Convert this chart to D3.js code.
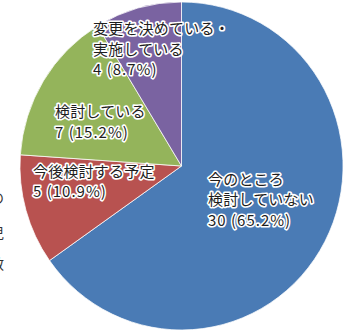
<!DOCTYPE html>
<html lang="ja">
<head>
<meta charset="utf-8">
<script src="https://cdn.jsdelivr.net/npm/d3@7/dist/d3.min.js"></script>
<style>
  html, body { margin: 0; padding: 0; background: #ffffff; }
  svg { display: block; }
  .lbl { font-family: "Noto Sans CJK JP", "Noto Sans", sans-serif; font-size: 15px; fill: #1e1e1e;
         letter-spacing: 0.2px;
         stroke: #ffffff; stroke-width: 3.2px; stroke-linejoin: round; paint-order: stroke; }
  .lbl .num { letter-spacing: 1px; }
  .side { font-family: "Noto Sans CJK JP", sans-serif; font-size: 14px; fill: #333333; }
</style>
</head>
<body>
<svg id="chart" width="352" height="331"></svg>
<script>
// Survey answers, in clockwise order from 12 o'clock
const categories = ["今のところ検討していない", "今後検討する予定", "検討している", "変更を決めている・実施している"];
const counts = [30, 5, 7, 4];
const percents = ["65.2%", "10.9%", "15.2%", "8.7%"];
const labelLines = [["今のところ", "検討していない"], ["今後検討する予定"], ["検討している"], ["変更を決めている・", "実施している"]];
const colors = ["#4a7bb5", "#b85250", "#94b45b", "#7a63a1"];
// Fragment of the neighbouring caption that runs off the left edge
const sideChars = ["の", "児", "数"];

const W = 352, H = 331;
const cx = 181.5, cy = 166, R = 164;

const svg = d3.select("#chart");

const pie = d3.pie().sort(null).value(d => d)(counts);
const arc = d3.arc().innerRadius(0).outerRadius(R);

const pieG = svg.append("g")
  .attr("transform", `translate(${cx},${cy}) scale(0.985,1)`);

pieG.selectAll("path.slice")
  .data(pie)
  .join("path")
  .attr("class", "slice")
  .attr("d", arc)
  .attr("fill", (d, i) => colors[i])
  .attr("stroke", "rgba(255,255,255,0.75)")
  .attr("stroke-width", 1);

// Label blocks: left edge / first baseline, relative to the pie centre
const labelAnchor = [
  { dx: 26.5, dy: 18.5 },
  { dx: -148.5, dy: 10.5 },
  { dx: -126.5, dy: -49 },
  { dx: -88.5, dy: -132 }
];
const lineH = 20.5;

const labG = svg.append("g").attr("transform", `translate(${cx},${cy})`);
pie.forEach((d, i) => {
  const lines = labelLines[i].map(s => ({ s, num: false }))
    .concat([{ s: `${counts[i]} (${percents[i]})`, num: true }]);
  const t = labG.append("text")
    .attr("class", "lbl")
    .attr("x", labelAnchor[i].dx)
    .attr("y", labelAnchor[i].dy);
  lines.forEach((l, k) => {
    t.append("tspan")
      .attr("class", l.num ? "num" : null)
      .attr("x", labelAnchor[i].dx)
      .attr("dy", k === 0 ? 0 : lineH)
      .text(l.s);
  });
});

// Cropped caption at the left border
svg.selectAll("text.side")
  .data(sideChars)
  .join("text")
  .attr("class", "side")
  .attr("text-anchor", "end")
  .attr("x", 4)
  .attr("y", (d, i) => [203, 238, 269][i])
  .text(d => d);
</script>
</body>
</html>
